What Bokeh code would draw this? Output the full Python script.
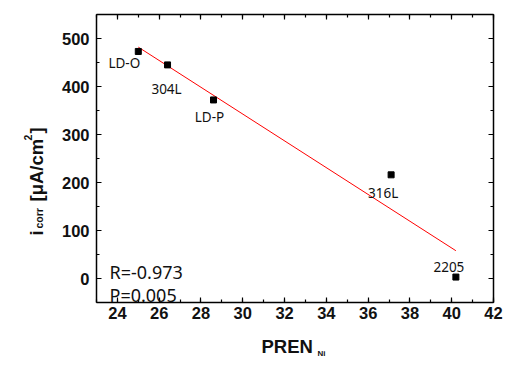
import numpy as np
from bokeh.plotting import figure
from bokeh.models import LinearAxis, Label, FixedTicker, CustomJSTickFormatter, Range1d
from bokeh.embed import file_html
from bokeh.resources import INLINE

# ---- data ----
names = ["LD-O", "304L", "LD-P", "316L", "2205"]
pren = [25.0, 26.4, 28.6, 37.1, 40.2]
icorr = [473, 445, 372, 216, 3]
x_ticks = [24, 26, 28, 30, 32, 34, 36, 38, 40, 42]
x_minor = list(range(23, 43))
y_ticks = [0, 100, 200, 300, 400, 500]
y_minor = list(range(-50, 551, 50))
stats = ["R=-0.973", "P=0.005"]
X0, X1 = 23, 42
Y0, Y1 = -50, 550

# ---- layout (pixels) ----
W, H = 503, 358
BOX_L, BOX_R, BOX_T, BOX_B = 96, 493, 14, 302
kx = (BOX_R - BOX_L) / (X1 - X0)
ky = (BOX_B - BOX_T) / (Y1 - Y0)
xr = Range1d(X0 - BOX_L / kx, X1 + (W - BOX_R) / kx)
yr = Range1d(Y0 - (H - BOX_B) / ky, Y1 + BOX_T / ky)

# label offsets (screen px) relative to each point
lab_dx = [-14, -1, -4, -8, -7]
lab_dy = [-12, -24, -17, -18, 10]

p = figure(width=W, height=H, x_range=xr, y_range=yr,
           x_axis_location=None, y_axis_location=None,
           output_backend="svg", toolbar_location=None,
           min_border_left=0, min_border_right=0, min_border_top=0, min_border_bottom=0)
p.background_fill_color = "white"
p.border_fill_color = "white"
p.grid.visible = False
p.outline_line_color = None

blank = CustomJSTickFormatter(code="return ''")

def make_axis(loc, ticks, minor, bounds, labels):
    ax = LinearAxis(fixed_location=loc, bounds=bounds,
                    ticker=FixedTicker(ticks=ticks, minor_ticks=minor))
    if not labels:
        ax.formatter = blank
    ax.axis_line_color = "black"
    ax.axis_line_width = 1.5
    ax.major_tick_in = 5
    ax.major_tick_out = 0
    ax.minor_tick_in = 3
    ax.minor_tick_out = 0
    ax.major_tick_line_color = "black"
    ax.minor_tick_line_color = "black"
    ax.major_tick_line_width = 1.2
    ax.minor_tick_line_width = 1.2
    ax.major_label_text_font = "Liberation Sans"
    ax.major_label_text_font_style = "bold"
    ax.major_label_text_font_size = "16.5px"
    ax.major_label_text_color = "#111111"
    return ax

bottom = make_axis(Y0, x_ticks, x_minor, (X0, X1), True)
bottom.major_label_standoff = 4
left = make_axis(X0, y_ticks, y_minor, (Y0, Y1), True)
left.major_label_standoff = 7
top = make_axis(Y1, x_ticks, x_minor, (X0, X1), False)
right = make_axis(X1, y_ticks, y_minor, (Y0, Y1), False)
p.add_layout(bottom, "below")
p.add_layout(left, "left")
p.add_layout(top, "above")
p.add_layout(right, "right")

# fit line
k, b = np.polyfit(pren, icorr, 1)
fx = np.array([min(pren), max(pren)])
p.line(fx, k * fx + b, line_color="red", line_width=1)

p.scatter(pren, icorr, marker="square", size=6, color="black")

for nm, xv, yv, dx, dy in zip(names, pren, icorr, lab_dx, lab_dy):
    p.add_layout(Label(x=xv, y=yv, text=nm, x_offset=dx, y_offset=dy,
                       text_align="center", text_baseline="middle",
                       text_font="Noto Sans", text_font_size="13.5px", text_color="#111111"))

for txt, yy in zip(stats, [87, 64]):
    p.add_layout(Label(x=109, y=yy, x_units="screen", y_units="screen", text=txt,
                       text_font="Noto Sans", text_font_size="18px", text_color="#111111",
                       text_baseline="alphabetic"))

# axis titles (screen px from canvas bottom-left)
def lab(text, x, y, size, angle=0.0):
    p.add_layout(Label(x=x, y=y, x_units="screen", y_units="screen", text=text, angle=angle,
                       text_font="Liberation Sans", text_font_style="bold",
                       text_font_size=size, text_color="#111111",
                       text_align="left", text_baseline="alphabetic"))

lab("PREN", 261, 12, "18.5px")
lab("Ni", 317, 5, "8px")

a = np.pi / 2
lab("i", 36, 123, "18.5px", a)
lab("corr", 38, 130, "10.5px", a)
lab("[\u03bcA/cm", 36, 157, "18.5px", a)
lab("2", 27, 218, "10.5px", a)
lab("]", 36, 225, "18.5px", a)

open("out.html", "w").write(file_html(p, INLINE))
